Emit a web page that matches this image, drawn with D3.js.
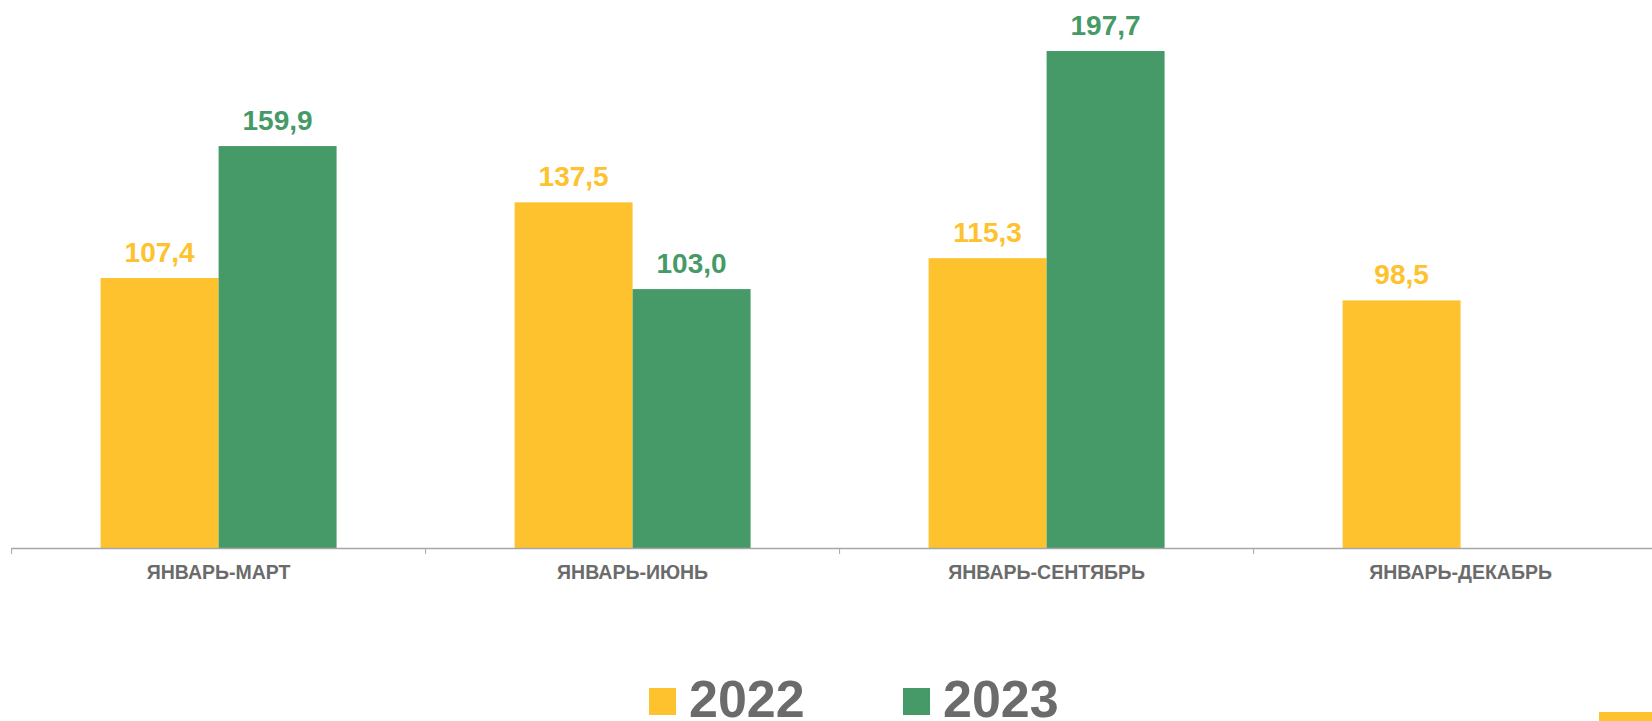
<!DOCTYPE html>
<html>
<head>
<meta charset="utf-8">
<script src="https://cdn.jsdelivr.net/npm/d3@7"></script>
<style>
  html, body { margin: 0; padding: 0; background: #fff; }
  svg { display: block; font-family: "Liberation Sans", Arial, sans-serif; }
</style>
</head>
<body>
<div id="chart"></div>
<script>
const categories = ["ЯНВАРЬ-МАРТ", "ЯНВАРЬ-ИЮНЬ", "ЯНВАРЬ-СЕНТЯБРЬ", "ЯНВАРЬ-ДЕКАБРЬ"];
const years = ["2022", "2023"];
const values2022 = [107.4, 137.5, 115.3, 98.5];
const values2023 = [159.9, 103.0, 197.7, null];

const colors = { "2022": "#FDC22E", "2023": "#469A67" };
const textGray = "#6b6b6b";

let width = 1652, height = 721;
let axisY = 548;
let left = 11.6, step = 414;

let rows = categories.map(function(c, i) {
  return { category: c, values: [
    { year: "2022", value: values2022[i] },
    { year: "2023", value: values2023[i] }
  ]};
});

let svg = d3.select("#chart")
  .append("svg")
    .attr("width", width)
    .attr("height", height);

let x0 = d3.scaleBand()
  .domain(categories)
  .range([left, left + step * categories.length])
  .paddingInner(0.43)
  .paddingOuter(0.215);

let x1 = d3.scaleBand()
  .domain(years)
  .range([0, x0.bandwidth()]);

let y = d3.scaleLinear()
  .domain([0, 218])
  .range([axisY, 0]);

let fmt = function(v) { return d3.format(".1f")(v).replace(".", ","); };

// bars
let groups = svg.selectAll(".group")
  .data(rows)
  .enter()
  .append("g")
    .attr("class", "group")
    .attr("transform", function(d) { return translate(x0(d.category), 0); });

let items = groups.selectAll(".item")
  .data(function(d) { return d.values.filter(function(v) { return v.value != null; }); })
  .enter()
  .append("g")
    .attr("class", "item");

items.append("rect")
    .attr("x", function(d) { return x1(d.year); })
    .attr("y", function(d) { return y(d.value); })
    .attr("width", x1.bandwidth())
    .attr("height", function(d) { return axisY - y(d.value); })
    .attr("fill", function(d) { return colors[d.year]; });

items.append("text")
    .attr("x", function(d) { return x1(d.year) + x1.bandwidth() / 2; })
    .attr("y", function(d) { return y(d.value) - 16; })
    .attr("text-anchor", "middle")
    .attr("font-size", 28)
    .attr("font-weight", "bold")
    .attr("fill", function(d) { return colors[d.year]; })
    .text(function(d) { return fmt(d.value); });

// x axis: labels from the band scale, ticks at band boundaries
let axis = svg.append("g")
    .attr("transform", translate(0, axisY))
    .call(d3.axisBottom(x0).tickSize(0).tickPadding(17));

axis.select(".domain").remove();
axis.selectAll("text")
    .attr("font-size", 19.5)
    .attr("font-weight", "bold")
    .attr("font-family", "Liberation Sans, Arial, sans-serif")
    .attr("fill", textGray);

svg.append("line")
    .attr("x1", left)
    .attr("x2", width)
    .attr("y1", axisY + 0.5)
    .attr("y2", axisY + 0.5)
    .attr("stroke", "#a6a6a6")
    .attr("stroke-width", 1.5);

svg.selectAll(".bound")
  .data(categories)
  .enter()
  .append("line")
    .attr("class", "bound")
    .attr("x1", function(d) { return x0(d) - x0.step() * x0.paddingInner() / 2; })
    .attr("x2", function(d) { return x0(d) - x0.step() * x0.paddingInner() / 2; })
    .attr("y1", axisY)
    .attr("y2", axisY + 6)
    .attr("stroke", "#a6a6a6")
    .attr("stroke-width", 1);

// legend
let legendX = [649, 903];

let legend = svg.selectAll(".legend")
  .data(years)
  .enter()
  .append("g")
    .attr("class", "legend")
    .attr("transform", function(d, i) { return translate(legendX[i], 688); });

legend.append("rect")
    .attr("width", 27)
    .attr("height", 27)
    .attr("fill", function(d) { return colors[d]; });

legend.append("text")
    .attr("x", 40)
    .attr("y", 29)
    .attr("font-size", 52)
    .attr("font-weight", "bold")
    .attr("fill", textGray)
    .text(function(d) { return d; });

// slide decoration cut off at the bottom right
svg.append("rect")
    .attr("x", 1599)
    .attr("y", 712)
    .attr("width", 60)
    .attr("height", 12)
    .attr("fill", colors["2022"]);

function translate(x, y=0) {
  return "translate({x}, {y})"
          .replace("{x}", x)
          .replace("{y}", y);
}
</script>
</body>
</html>
